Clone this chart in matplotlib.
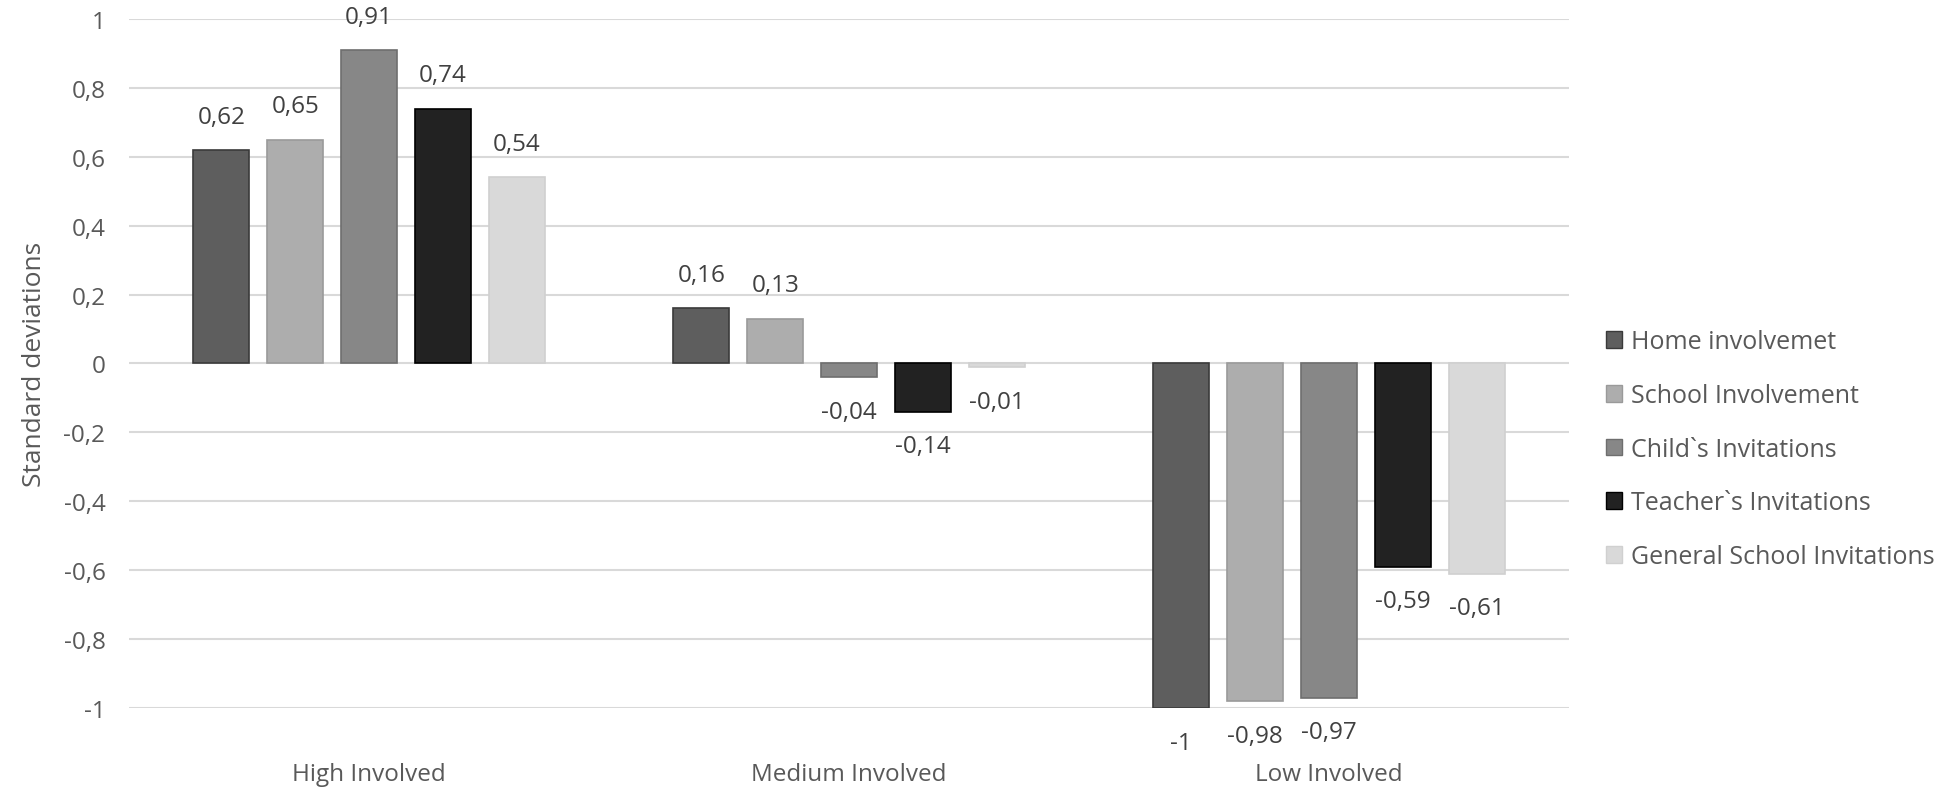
import numpy as np
import matplotlib
matplotlib.use("Agg")
import matplotlib.pyplot as plt
import matplotlib.patches as mpatches

plt.rcParams["font.family"] = ["Open Sans", "DejaVu Sans"]

# 데이터
categories = ["High Involved", "Medium Involved", "Low Involved"]
series_names = ["Home involvemet", "School Involvement", "Child`s Invitations",
                "Teacher`s Invitations", "General School Invitations"]
home = [0.62, 0.16, -1]
school = [0.65, 0.13, -0.98]
child = [0.91, -0.04, -0.97]
teacher = [0.74, -0.14, -0.59]
general = [0.54, -0.01, -0.61]
yticks = [1, 0.8, 0.6, 0.4, 0.2, 0, -0.2, -0.4, -0.6, -0.8, -1]

values = [home, school, child, teacher, general]
colors = ["#5e5e5e", "#adadad", "#878787", "#222222", "#d9d9d9"]
edges = ["#3a3a3a", "#9a9a9a", "#6e6e6e", "#000000", "#d0d0d0"]


def fmt(v):
    return f"{v:g}".replace(".", ",")


fig = plt.figure(figsize=(19.5, 8.04), dpi=100)
ax = fig.add_axes([0.0662, 0.1182, 0.7385, 0.8570])

x = np.arange(len(categories))
pitch = 0.154
width = 0.117
for i, (name, vals) in enumerate(zip(series_names, values)):
    xs = x + (i - 2) * pitch
    ax.bar(xs, vals, width=width, color=colors[i], edgecolor=edges[i],
           linewidth=1.2, label=name, zorder=3)
    for xi, v in zip(xs, vals):
        off = 24 if v >= 0 else -25
        ax.annotate(fmt(v), (xi, v), xytext=(0, off), textcoords="offset points",
                    ha="center", va="center", fontsize=17.5, color="#404040")

ax.set_xlim(-0.5, 2.5)
ax.set_ylim(-1, 1)
ax.set_yticks(yticks)
ax.set_yticklabels([fmt(t) for t in yticks], fontsize=17.5, color="#595959")
ax.set_xticks(x)
ax.set_xticklabels(categories, fontsize=17.5, color="#595959")
ax.tick_params(axis="both", length=0)
ax.tick_params(axis="y", pad=17)
ax.tick_params(axis="x", pad=39)
ax.yaxis.grid(True, color="#d9d9d9", linewidth=1.5, zorder=0)
ax.set_axisbelow(True)
for s in ax.spines.values():
    s.set_visible(False)
ax.set_ylabel("Standard deviations", fontsize=19, color="#595959")
ax.yaxis.set_label_coords(-0.057, 0.5)

handles = [mpatches.Patch(facecolor=c, edgecolor=e, linewidth=1) for c, e in zip(colors, edges)]
fig.legend(handles, series_names, loc="center left", bbox_to_anchor=(0.812, 0.44),
           frameon=False, fontsize=18, handlelength=0.65, handleheight=0.65,
           handletextpad=0.35, labelspacing=1.15, labelcolor="#595959")

plt.savefig("out.png", dpi=100)
plt.close()
